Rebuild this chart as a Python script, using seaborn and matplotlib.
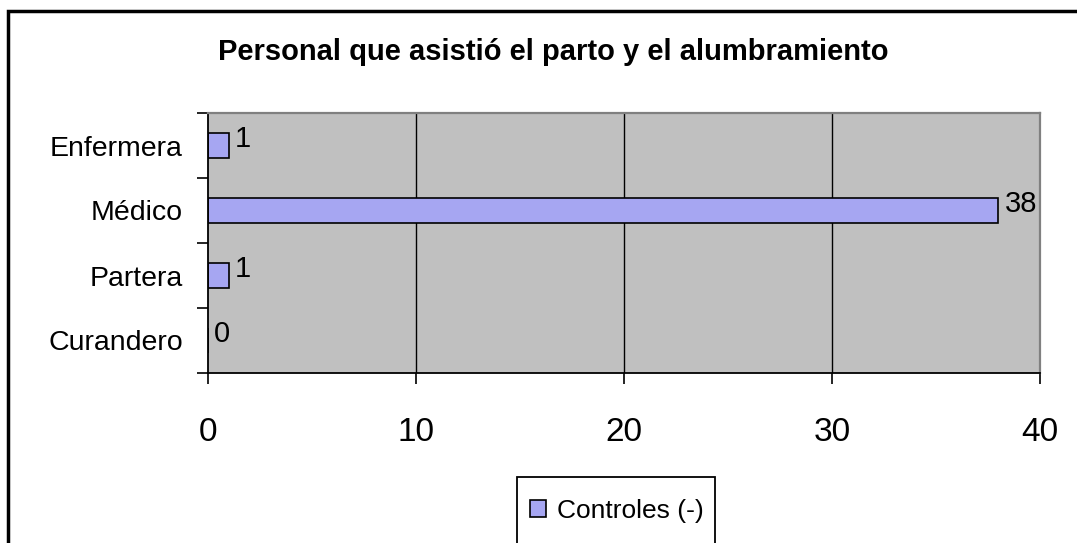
import matplotlib
matplotlib.use("Agg")
import matplotlib.pyplot as plt
import seaborn as sns
import pandas as pd
from matplotlib.patches import Rectangle

categories = ["Enfermera", "Médico", "Partera", "Curandero"]
values = [1, 38, 1, 0]
series_name = "Controles (-)"
title = "Personal que asistió el parto y el alumbramiento"
x_ticks = [0, 10, 20, 30, 40]

sns.set_theme(style="white")
plt.rcParams["font.family"] = ["Liberation Sans", "DejaVu Sans"]
plt.rcParams["text.color"] = "black"
plt.rcParams["axes.labelcolor"] = "black"
plt.rcParams["xtick.color"] = "black"
plt.rcParams["ytick.color"] = "black"

df = pd.DataFrame({"cat": categories, "val": values, "serie": [series_name] * len(values)})

fig = plt.figure(figsize=(10.77, 5.43), dpi=100)
ax = fig.add_axes([208 / 1077, 1 - 373 / 543, (1040 - 208) / 1077, (373 - 113) / 543])
ax.set_facecolor("#C0C0C0")

sns.barplot(data=df, x="val", y="cat", hue="serie", palette=["#9999FF"], orient="h",
            width=0.37, edgecolor="black", linewidth=1.2, ax=ax, legend=True)

ax.set_xlim(0, 40)
ax.set_ylim(3.5, -0.5)
ax.set_xticks(x_ticks)
ax.set_xticklabels([str(t) for t in x_ticks], fontsize=24, color="black")
ax.set_xlabel("")
ax.set_ylabel("")
ax.tick_params(axis="x", which="major", direction="out", length=8, width=1.2, color="black",
               pad=24, bottom=True, labelcolor="black")
ax.set_yticks(range(len(categories)))
ax.set_yticklabels(categories, fontsize=20.5, color="black")
ax.tick_params(axis="y", which="major", length=0, pad=18, labelcolor="black")
ax.set_yticks([-0.5, 0.5, 1.5, 2.5, 3.5], minor=True)
ax.tick_params(axis="y", which="minor", direction="out", length=8, width=1.2, color="black", left=True)

for xv in [10, 20, 30]:
    ax.axvline(xv, color="black", lw=1.0, zorder=0.5)
ax.set_axisbelow(True)

for s in ["left", "bottom"]:
    ax.spines[s].set_color("black")
    ax.spines[s].set_linewidth(1.3)
for s in ["top", "right"]:
    ax.spines[s].set_color("#808080")
    ax.spines[s].set_linewidth(1.6)

for i, v in enumerate(values):
    ax.text(v + 0.3, i - 0.1, str(v), fontsize=21, ha="left", va="center", color="black")

fig.text(553 / 1077, 1 - 52 / 543, title, fontsize=21, fontweight="bold", ha="center",
         va="center", color="black")

leg = ax.get_legend()
handles = leg.legend_handles
leg.remove()
fig.legend(handles, [series_name], loc="center left", bbox_to_anchor=(530 / 1077, 1 - 511 / 543),
           bbox_transform=fig.transFigure, fontsize=19, frameon=False,
           handlelength=0.62, handleheight=0.62, handletextpad=0.42,
           borderpad=0.0, borderaxespad=0)
for t in fig.legends[0].get_texts():
    t.set_color("black")

# legend frame (extends past the bottom edge, as in the reference)
fig.patches.append(Rectangle((517 / 1077, -0.1), (715 - 517) / 1077, 0.1 + 1 - 477 / 543,
                             transform=fig.transFigure, fill=False, edgecolor="black", lw=1.3))

fig.patches.append(Rectangle((8 / 1077, -0.1), 1.2, 1.1 - 11 / 543, transform=fig.transFigure,
                             fill=False, edgecolor="black", lw=2.5))

fig.savefig("out.png", dpi=100)
